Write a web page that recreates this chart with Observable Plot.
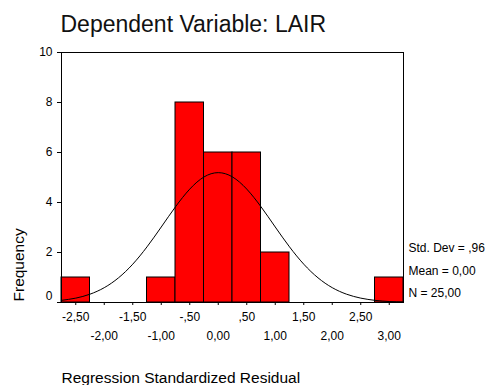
<!DOCTYPE html>
<html><head><meta charset="utf-8">
<script src="https://cdn.jsdelivr.net/npm/d3@7"></script>
<script src="https://cdn.jsdelivr.net/npm/@observablehq/plot@0.6"></script>
<style>body{margin:0;background:#fff}</style>
</head><body><div id="chart"></div>
<script>
// Histogram bins (center, width 0.5) and frequencies
const binCenters = [-2.5, -1.0, -0.5, 0.0, 0.5, 1.0, 3.0];
const binCounts  = [1, 1, 8, 6, 6, 2, 1];
const binWidth = 0.5;

// Fitted normal curve
const curveX = [-2.75,-2.5,-2.25,-2.0,-1.75,-1.5,-1.25,-1.0,-0.75,-0.5,-0.25,0,0.25,0.5,0.75,1.0,1.25,1.5,1.75,2.0,2.25,2.5,2.75,3.0,3.25];
const curveY = [0.086,0.175,0.333,0.593,0.987,1.533,2.226,3.020,3.829,4.536,5.022,5.195,5.022,4.536,3.829,3.020,2.226,1.533,0.987,0.593,0.333,0.175,0.086,0.039,0.017];

// Tick labels (two staggered rows)
const xTicksRow1 = [-2.5, -1.5, -0.5, 0.5, 1.5, 2.5];
const xLabelsRow1 = ["-2,50", "-1,50", "-,50", ",50", "1,50", "2,50"];
const xTicksRow2 = [-2, -1, 0, 1, 2, 3];
const xLabelsRow2 = ["-2,00", "-1,00", "0,00", "1,00", "2,00", "3,00"];
const yTicks = [0, 2, 4, 6, 8, 10];

const title = "Dependent Variable: LAIR";
const xTitle = "Regression Standardized Residual";
const yTitle = "Frequency";
const statsLines = ["Std. Dev = ,96", "Mean = 0,00", "N = 25,00"];

const bins = binCenters.map((c, i) => ({x1: c - binWidth / 2, x2: c + binWidth / 2, y: binCounts[i]}));
const curve = curveX.map((x, i) => ({x, y: curveY[i]}));
const row1 = xTicksRow1.map((x, i) => ({x, label: xLabelsRow1[i]}));
const row2 = xTicksRow2.map((x, i) => ({x, label: xLabelsRow2[i]}));
const allXTicks = [...xTicksRow1, ...xTicksRow2].sort((a, b) => a - b);

const font = "Arial, 'Liberation Sans', sans-serif";

const chart = Plot.plot({
  width: 492,
  height: 385,
  marginTop: 52,
  marginLeft: 61,
  marginRight: 89,
  marginBottom: 83,
  style: {fontFamily: font, fontSize: "12px", color: "#000", background: "#fff"},
  x: {domain: [-2.75, 3.25], axis: null},
  y: {domain: [0, 10], axis: null},
  marks: [
    Plot.rectY(bins, {x1: "x1", x2: "x2", y: "y", fill: "#ff0000", stroke: "#000", strokeWidth: 1, inset: 0}),
    Plot.line(curve, {x: "x", y: "y", curve: "natural", stroke: "#000", strokeWidth: 1}),
    Plot.frame({stroke: "#000", strokeWidth: 1}),
    Plot.axisY({ticks: yTicks, tickSize: 4, tickPadding: 5, fontSize: 12, label: null, tickFormat: d => d === 0 ? "" : String(d)}),
    Plot.text([0], {y: d => d, frameAnchor: "left", dx: -9, dy: -6, textAnchor: "end", fontSize: 12, text: d => String(d)}),
    Plot.axisX({ticks: allXTicks, tickSize: 3, label: null, tickFormat: () => ""}),
    Plot.text(row1, {x: "x", text: "label", frameAnchor: "bottom", dy: 15, lineAnchor: "middle", fontSize: 12}),
    Plot.text(row2, {x: "x", text: "label", frameAnchor: "bottom", dy: 34, lineAnchor: "middle", fontSize: 12}),
    Plot.text([title], {frameAnchor: "top-left", dx: -1, dy: -28, textAnchor: "start", lineAnchor: "middle", fontSize: 23, fill: "#111"}),
    Plot.text([xTitle], {frameAnchor: "bottom-left", dx: 0, dy: 76, textAnchor: "start", lineAnchor: "middle", fontSize: 15.5}),
    Plot.text([yTitle], {frameAnchor: "bottom-left", dx: -42.5, dy: -1, rotate: -90, textAnchor: "start", lineAnchor: "middle", fontSize: 15.5}),
    Plot.text([statsLines[0]], {frameAnchor: "bottom-right", dx: 5, dy: -54, textAnchor: "start", lineAnchor: "middle", fontSize: 12}),
    Plot.text([statsLines[1]], {frameAnchor: "bottom-right", dx: 5, dy: -31, textAnchor: "start", lineAnchor: "middle", fontSize: 12}),
    Plot.text([statsLines[2]], {frameAnchor: "bottom-right", dx: 5, dy: -9, textAnchor: "start", lineAnchor: "middle", fontSize: 12})
  ]
});
document.getElementById("chart").appendChild(chart);
</script>
</body></html>
